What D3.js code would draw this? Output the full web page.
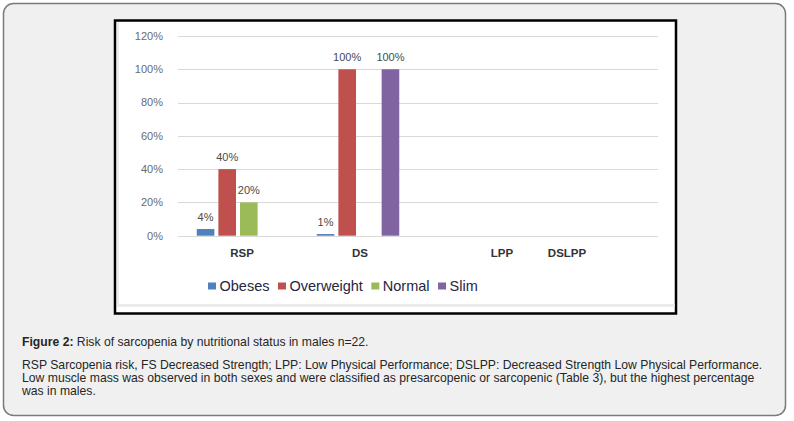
<!DOCTYPE html>
<html>
<head>
<meta charset="utf-8">
<script src="https://cdn.jsdelivr.net/npm/d3@7"></script>
<style>
  html, body { margin: 0; padding: 0; background: #fff; }
  svg { display: block; font-family: "Liberation Sans", Arial, sans-serif; }
</style>
</head>
<body>
<svg id="chart" width="794" height="421"></svg>
<script>
// data
const categories = ["RSP", "DS", "LPP", "DSLPP"];
const groups = ["Obeses", "Overweight", "Normal", "Slim"];
const obeses = [4, 1, 0, 0];
const overweight = [40, 100, 0, 0];
const normal = [20, 0, 0, 0];
const slim = [0, 100, 0, 0];
const yTicks = [0, 20, 40, 60, 80, 100, 120];
const colors = ["#4f81bd", "#c0504d", "#9bbb59", "#8064a2"];

// the category labels in the original sit a bit off their groups
const labelNudge = [4, 2, 24, -31];

const series = [obeses, overweight, normal, slim];
const rows = categories.map((c, i) => ({
    cat: c,
    vals: groups.map((g, j) => ({ key: g, value: series[j][i], color: colors[j] }))
}));

const svg = d3.select("#chart");

// outer card
svg.append("rect")
    .attr("x", 3.5).attr("y", 3.5)
    .attr("width", 782).attr("height", 412)
    .attr("rx", 10)
    .attr("fill", "#f0f0f0")
    .attr("stroke", "#7a7a7a")
    .attr("stroke-width", 1.5);

// chart frame
svg.append("rect")
    .attr("x", 115).attr("y", 20.5)
    .attr("width", 561).attr("height", 293)
    .attr("fill", "#fff")
    .attr("stroke", "#000")
    .attr("stroke-width", 2.5);

// faint border of the pasted chart image
svg.append("line")
    .attr("x1", 117).attr("x2", 674.5)
    .attr("y1", 305.5).attr("y2", 305.5)
    .attr("stroke", "#ececec").attr("stroke-width", 3);
svg.append("line")
    .attr("x1", 118).attr("x2", 118)
    .attr("y1", 22).attr("y2", 307)
    .attr("stroke", "#ececec").attr("stroke-width", 2);

const y = d3.scaleLinear().domain([0, 120]).range([235.7, 36]);
const x0 = d3.scaleBand().domain(categories).range([178, 658])
    .paddingInner(0.3125).paddingOuter(0.15625);
const x1 = d3.scaleBand().domain(groups).range([0, x0.bandwidth()])
    .paddingInner(0.186).paddingOuter(0);

// gridlines
svg.append("g")
    .selectAll("line")
    .data(yTicks)
    .join("line")
    .attr("x1", 178).attr("x2", 658)
    .attr("y1", d => Math.round(y(d)) + 0.5)
    .attr("y2", d => Math.round(y(d)) + 0.5)
    .attr("stroke", "#d9d9d9")
    .attr("stroke-width", 1);

// y axis labels
svg.append("g")
    .selectAll("text")
    .data(yTicks)
    .join("text")
    .attr("x", 163)
    .attr("y", d => y(d))
    .attr("dy", "0.35em")
    .attr("text-anchor", "end")
    .attr("font-size", 11)
    .attr("fill", "#6b6b6b")
    .text(d => d + "%");

// bars
const grp = svg.append("g")
    .selectAll("g")
    .data(rows)
    .join("g")
    .attr("transform", d => `translate(${x0(d.cat)},0)`);

grp.selectAll("rect")
    .data(d => d.vals.filter(v => v.value > 0))
    .join("rect")
    .attr("x", d => x1(d.key))
    .attr("y", d => y(d.value))
    .attr("width", x1.bandwidth())
    .attr("height", d => y(0) - y(d.value))
    .attr("fill", d => d.color);

grp.selectAll("text")
    .data(d => d.vals.filter(v => v.value > 0))
    .join("text")
    .attr("x", d => x1(d.key) + x1.bandwidth() / 2)
    .attr("y", d => y(d.value) - 8.5)
    .attr("text-anchor", "middle")
    .attr("font-size", 11)
    .attr("fill", "#4a4a4a")
    .text(d => d.value + "%");

// category labels
svg.append("g")
    .selectAll("text")
    .data(categories)
    .join("text")
    .attr("x", (d, i) => x0(d) + x0.bandwidth() / 2 + labelNudge[i])
    .attr("y", 257)
    .attr("text-anchor", "middle")
    .attr("font-size", 11.5)
    .attr("font-weight", "bold")
    .attr("fill", "#333")
    .text(d => d);

// legend
const legend = svg.append("g").attr("transform", "translate(208,286)");
let lx = 0;
groups.forEach((g, i) => {
    legend.append("rect")
        .attr("x", lx).attr("y", -3.5)
        .attr("width", 8).attr("height", 7)
        .attr("fill", colors[i]);
    const t = legend.append("text")
        .attr("x", lx + 11.5)
        .attr("dy", "0.35em")
        .attr("font-size", 14.5)
        .attr("fill", "#262640")
        .text(g);
    lx += 11.5 + t.node().getComputedTextLength() + 8.5;
});

// caption
const cap = svg.append("g").attr("fill", "#262626").attr("font-size", 12.2);
const line1 = cap.append("text").attr("x", 22).attr("y", 346);
line1.append("tspan").attr("font-weight", "bold").text("Figure 2:");
line1.append("tspan").text(" Risk of sarcopenia by nutritional status in males n=22.");

const notes = [
    "RSP Sarcopenia risk, FS Decreased Strength; LPP: Low Physical Performance; DSLPP: Decreased Strength Low Physical Performance.",
    "Low muscle mass was observed in both sexes and were classified as presarcopenic or sarcopenic (Table 3), but the highest percentage",
    "was in males."
];
cap.selectAll("text.note")
    .data(notes)
    .join("text")
    .attr("class", "note")
    .attr("x", 22)
    .attr("y", (d, i) => 369 + i * 13.2)
    .text(d => d);
</script>
</body>
</html>
